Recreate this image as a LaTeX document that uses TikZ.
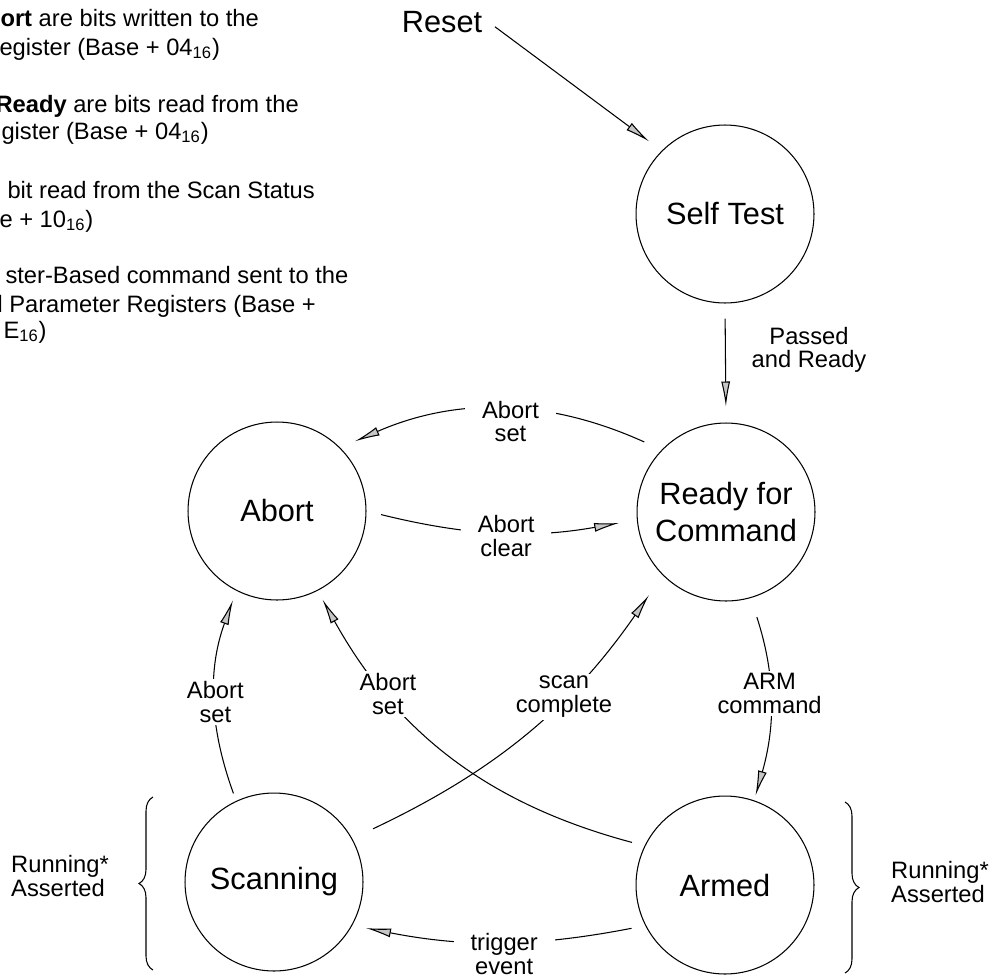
\documentclass[tikz,border=0pt]{standalone}
\usepackage{fontspec}
\setmainfont{Liberation Sans}
\usetikzlibrary{arrows.meta,decorations.pathreplacing}

\begin{document}
\begin{tikzpicture}[x=0.02cm, y=-0.02cm, line width=0.6pt,
    state/.style={circle, draw, minimum size=3.56cm, inner sep=0pt, align=center, font=\fontsize{17.5}{20.5}\selectfont},
    lbl/.style={fill=white, align=center, inner xsep=0.34cm, inner ysep=0.05cm, font=\fontsize{13.5}{13.5}\selectfont},
    side/.style={align=left, inner sep=0pt, font=\fontsize{13.5}{13.5}\selectfont},
    note/.style={anchor=base west, inner sep=0pt, font=\fontsize{13.5}{16}\selectfont},
    arr/.style={-{Latex[length=5mm, width=1.8mm, fill=gray!45]}},
    brc/.style={decorate, decoration={brace, amplitude=0.28cm}}]
    \useasboundingbox (0,0) rectangle (993,977);
    \clip (0,0) rectangle (993,977);

    % notes, cut at the left edge
    \node[note] (n1) at (0,27) {\textbf{ort} are bits written to the};
    \node[note] (n2) at (-1,55) {egister (Base + 04\textsubscript{16})};
    \node[note] (n3) at (-5,112) {\textbf{Ready} are bits read from the};
    \node[note] (n4) at (1,139) {gister (Base + 04\textsubscript{16})};
    \node[note] (n5) at (7,198) {bit read from the Scan Status};
    \node[note] (n6) at (-1,227) {e + 10\textsubscript{16})};
    \node[note] (n7) at (5,283) {ster-Based command sent to the};
    \node[note] (n8) at (-11,312) {d Parameter Registers (Base +};
    \node[note] (n9) at (3,338) {E\textsubscript{16})};

    % states
    \node[font=\fontsize{17.5}{20}\selectfont] (rst) at (442,22) {Reset};
    \node[state] (st) at (725,214) {Self Test};
    \node[state] (rdy) at (726,512) {Ready for\\Command};
    \node[state] (abt) at (277,511) {Abort};
    \node[state] (scn) at (274,882) {Scanning};
    \node[state] (arm) at (725,885) {Armed};

    \draw[arr, shorten <=0.16cm, shorten >=0.31cm] (rst.east) -- (st.135);
    \draw[arr, shorten <=0.3cm, shorten >=0.32cm] (st.south) -- (rdy.north);
    \node[side, align=center] (pr) at (809,350) {Passed\\and Ready};

    \draw[arr, shorten <=0.38cm, shorten >=0.32cm] (rdy.136) to[bend right=24]
        node[lbl, pos=0.47, yshift=-0.22cm] {Abort\\set} (abt.45);
    \draw[arr, shorten <=0.3cm, shorten >=0.36cm] (abt.0) to[bend right=12]
        node[lbl, pos=0.52, yshift=-0.08cm] {Abort\\clear} (rdy.185);
    \draw[arr, shorten <=0.4cm, shorten >=0.1cm] (rdy.286) to[bend left=17]
        node[lbl, pos=0.47] {ARM\\command} (arm.71);
    \draw[arr, shorten <=0.28cm, shorten >=0.28cm] (arm.207) to[bend left=11]
        node[lbl, pos=0.48, yshift=-0.24cm] {trigger\\event} (scn.331);
    \draw[arr, shorten <=0.16cm, shorten >=0.2cm] (scn.115) to[bend left=20]
        node[lbl, pos=0.47] {Abort\\set} (abt.243);
    \draw[arr, shorten <=0.26cm, shorten >=0.2cm] (arm.154) to[bend left=23]
        node[lbl, pos=0.72] {Abort\\set} (abt.297);
    \draw[arr, shorten <=0.46cm, shorten >=0.48cm] (scn.29) to[bend right=15]
        node[lbl, pos=0.63] {scan\\complete} (rdy.225);

    % running brackets
    \coordinate (lb1) at (153,970);
    \coordinate (lb2) at (153,797);
    \coordinate (rb1) at (845,802);
    \coordinate (rb2) at (845,973);
    \draw[brc] (lb1) -- (lb2);
    \draw[brc] (rb1) -- (rb2);
    \node[side] (rl) at (60,876) {Running*\\Asserted};
    \node[side] (rr) at (940,882) {Running*\\Asserted};
\end{tikzpicture}
\end{document}
